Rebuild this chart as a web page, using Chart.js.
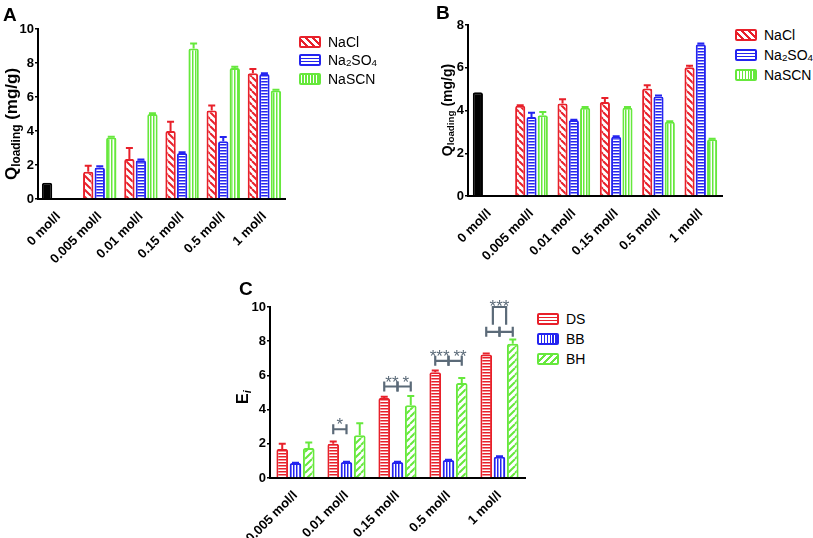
<!DOCTYPE html>
<html>
<head>
<meta charset="utf-8">
<script src="https://cdn.jsdelivr.net/npm/chart.js@4.4.1/dist/chart.umd.min.js"></script>
<style>
  body { margin: 0; background: #fff; }
  #wrap { position: relative; width: 813px; height: 538px; overflow: hidden; font-family: "Liberation Sans", Arial, sans-serif; }
  canvas { position: absolute; }
  .letter { position: absolute; font-weight: bold; font-size: 19px; }
  .ytitle { position: absolute; font-weight: bold; white-space: nowrap; line-height: 1; transform: translate(-50%, -50%) rotate(-90deg); }
  .ytitle sub { font-size: 70%; vertical-align: baseline; position: relative; top: 0.25em; }
  .legend { position: absolute; font-size: 14px; }
  .legend .row { position: absolute; left: 0; white-space: nowrap; transform: translateY(-50%); display: flex; align-items: center; }
  .legend .sw { box-sizing: border-box; width: 22px; height: 12px; border: 2px solid; border-radius: 2px; margin-right: 7px; }
  .legend sub { font-size: 70%; vertical-align: baseline; position: relative; top: 0.3em; }
</style>
</head>
<body>
<div id="wrap">
  <canvas id="chartA" width="300" height="270" style="left:0;top:0"></canvas>
  <canvas id="chartB" width="335" height="270" style="left:400px;top:0"></canvas>
  <canvas id="chartC" width="335" height="268" style="left:200px;top:270px"></canvas>

  <div class="letter" style="left:3px;top:4px">A</div>
  <div class="letter" style="left:436px;top:2px">B</div>
  <div class="letter" style="left:239px;top:278px">C</div>

  <div class="ytitle" style="left:11px;top:124px;font-size:17px">Q<sub>loading</sub> (mg/g)</div>
  <div class="ytitle" style="left:447px;top:110px;font-size:14px">Q<sub>loading</sub> (mg/g)</div>
  <div class="ytitle" style="left:243px;top:397px;font-size:16px">E<sub><i>i</i></sub></div>

  <div class="legend" style="left:299px;top:0">
    <div class="row" style="top:42px"><span class="sw" id="swA0"></span>NaCl</div>
    <div class="row" style="top:60px"><span class="sw" id="swA1"></span>Na<sub>2</sub>SO<sub>4</sub></div>
    <div class="row" style="top:79px"><span class="sw" id="swA2"></span>NaSCN</div>
  </div>
  <div class="legend" style="left:735px;top:0">
    <div class="row" style="top:35px"><span class="sw" id="swB0"></span>NaCl</div>
    <div class="row" style="top:55px"><span class="sw" id="swB1"></span>Na<sub>2</sub>SO<sub>4</sub></div>
    <div class="row" style="top:75px"><span class="sw" id="swB2"></span>NaSCN</div>
  </div>
  <div class="legend" style="left:537px;top:0">
    <div class="row" style="top:319px"><span class="sw" id="swC0"></span>DS</div>
    <div class="row" style="top:339px"><span class="sw" id="swC1"></span>BB</div>
    <div class="row" style="top:359px"><span class="sw" id="swC2"></span>BH</div>
  </div>
</div>

<script>
// ---- data ----
// first value of each NaCl array is the 0 mol/l control (drawn black)
const labelsAB = ["0 mol/l", "0.005 mol/l", "0.01 mol/l", "0.15 mol/l", "0.5 mol/l", "1 mol/l"];
const labelsC = ["0.005 mol/l", "0.01 mol/l", "0.15 mol/l", "0.5 mol/l", "1 mol/l"];

const naclA = [0.95, 1.6, 2.35, 4.0, 5.2, 7.4];
const naclErrA = [0, 0.35, 0.65, 0.55, 0.3, 0.25];
const na2so4A = [null, 1.85, 2.28, 2.7, 3.4, 7.35];
const na2so4ErrA = [0, 0.08, 0.04, 0.05, 0.25, 0.04];
const nascnA = [null, 3.62, 5.0, 8.85, 7.7, 6.38];
const nascnErrA = [0, 0.04, 0.04, 0.3, 0.08, 0.04];

const naclB = [4.85, 4.22, 4.33, 4.4, 5.03, 6.02];
const naclErrB = [0, 0.03, 0.2, 0.18, 0.15, 0.07];
const na2so4B = [null, 3.7, 3.55, 2.77, 4.65, 7.1];
const na2so4ErrB = [0, 0.2, 0.02, 0.02, 0.05, 0.03];
const nascnB = [null, 3.78, 4.13, 4.13, 3.47, 2.65];
const nascnErrB = [0, 0.15, 0.03, 0.03, 0.03, 0.03];

const dsC = [1.7, 2.0, 4.68, 6.18, 7.22];
const dsErrC = [0.3, 0.14, 0.07, 0.1, 0.06];
const bbC = [0.87, 0.93, 0.93, 1.05, 1.25];
const bbErrC = [0.02, 0.02, 0.02, 0.02, 0.02];
const bhC = [1.75, 2.5, 4.25, 5.55, 7.85];
const bhErrC = [0.33, 0.7, 0.55, 0.3, 0.25];

// significance brackets in C: [category, bar a, bar b, y, stars]
const sigC = [
  [1, 0, 1, 2.85, "*"],
  [2, 0, 1, 5.35, "**"],
  [2, 1, 2, 5.35, "*"],
  [3, 0, 1, 6.85, "***"],
  [3, 1, 2, 6.85, "**"],
  [4, 0, 1, 8.55, ""],
  [4, 1, 2, 8.55, ""]
];
// joining bracket over 1 mol/l: [category, y, stars]
const sigTopC = [4, 10, "***"];

const RED = "#e8202a";
const BLUE = "#2424f0";
const GREEN = "#66e83c";
const SIG = "#5b6a78";
const FONT = "'Liberation Sans', Arial, sans-serif";

// ---- fill patterns ----
function makePattern(color, kind) {
  const c = document.createElement("canvas");
  const s = kind === "diagDown" || kind === "diagUp" ? 7 : 3;
  c.width = s; c.height = s;
  const g = c.getContext("2d");
  g.fillStyle = "#fff";
  g.fillRect(0, 0, s, s);
  g.strokeStyle = color;
  g.fillStyle = color;
  if (kind === "horiz") {
    g.fillRect(0, 0, s, 1.5);
  } else if (kind === "vert") {
    g.fillRect(0, 0, 1.5, s);
  } else {
    g.lineWidth = 2;
    g.beginPath();
    for (const x0 of [-s, 0, s]) {
      if (kind === "diagDown") { g.moveTo(x0, 0); g.lineTo(x0 + s, s); }
      else { g.moveTo(x0, s); g.lineTo(x0 + s, 0); }
    }
    g.stroke();
  }
  return g.createPattern(c, "repeat");
}

function cssFill(color, kind) {
  if (kind === "horiz") return `repeating-linear-gradient(0deg, #fff 0 1.5px, ${color} 1.5px 3px)`;
  if (kind === "vert") return `repeating-linear-gradient(90deg, #fff 0 1.5px, ${color} 1.5px 3px)`;
  if (kind === "diagDown") return `repeating-linear-gradient(45deg, #fff 0 3px, ${color} 3px 5px)`;
  return `repeating-linear-gradient(-45deg, #fff 0 3px, ${color} 3px 5px)`;
}

function swatch(id, color, kind) {
  const el = document.getElementById(id);
  el.style.borderColor = color;
  el.style.background = cssFill(color, kind);
}

// ---- plugins ----
const errorBars = {
  id: "errorBars",
  afterDatasetsDraw(chart) {
    const ctx = chart.ctx;
    const yScale = chart.scales.y;
    chart.data.datasets.forEach((ds, i) => {
      if (!ds.errors) return;
      const meta = chart.getDatasetMeta(i);
      meta.data.forEach((bar, j) => {
        const v = ds.data[j];
        const e = ds.errors[j];
        if (v == null || !e) return;
        const top = yScale.getPixelForValue(v + e);
        ctx.save();
        ctx.strokeStyle = ds.errorColor;
        ctx.lineWidth = 2;
        ctx.beginPath();
        ctx.moveTo(bar.x, bar.y);
        ctx.lineTo(bar.x, top);
        ctx.moveTo(bar.x - 3.5, top);
        ctx.lineTo(bar.x + 3.5, top);
        ctx.stroke();
        ctx.restore();
      });
    });
  }
};

const sigMarks = {
  id: "sigMarks",
  afterDatasetsDraw(chart) {
    const ctx = chart.ctx;
    const yScale = chart.scales.y;
    const barX = (d, c) => chart.getDatasetMeta(d).data[c].x;
    ctx.save();
    ctx.strokeStyle = SIG;
    ctx.fillStyle = SIG;
    ctx.lineWidth = 2.2;
    ctx.font = "17px " + FONT;
    ctx.textBaseline = "alphabetic";
    sigC.forEach(([c, a, b, v, txt]) => {
      const x1 = barX(a, c), x2 = barX(b, c), y = yScale.getPixelForValue(v);
      ctx.beginPath();
      ctx.moveTo(x1, y); ctx.lineTo(x2, y);
      ctx.moveTo(x1, y - 5); ctx.lineTo(x1, y + 5);
      ctx.moveTo(x2, y - 5); ctx.lineTo(x2, y + 5);
      ctx.stroke();
      if (!txt) return;
      const paired = sigC.filter((s) => s[0] === c).length > 1;
      if (paired && a === 0) {
        ctx.textAlign = "right";
        ctx.fillText(txt, x2 + 1, y + 1);
      } else if (paired) {
        ctx.textAlign = "left";
        ctx.fillText(txt, x1 + 5, y + 1);
      } else {
        ctx.textAlign = "center";
        ctx.fillText(txt, (x1 + x2) / 2, y + 1);
      }
    });
    const [c, v, txt] = sigTopC;
    const low = sigC.find((s) => s[0] === c)[3];
    const xl = (barX(0, c) + barX(1, c)) / 2;
    const xr = (barX(1, c) + barX(2, c)) / 2;
    const yt = yScale.getPixelForValue(v);
    const yb = yScale.getPixelForValue(low) - 7;
    ctx.beginPath();
    ctx.moveTo(xl, yb); ctx.lineTo(xl, yt); ctx.lineTo(xr, yt); ctx.lineTo(xr, yb);
    ctx.stroke();
    ctx.textAlign = "center";
    ctx.fillText(txt, (xl + xr) / 2, yt + 5);
    ctx.restore();
  }
};

// ---- chart builder ----
function barSet(data, errors, color, kind, controlFirst) {
  const pat = makePattern(color, kind);
  return {
    data: data,
    errors: errors,
    errorColor: color,
    backgroundColor: (ctx) => (controlFirst && ctx.dataIndex === 0 ? "#000" : pat),
    borderColor: (ctx) => (controlFirst && ctx.dataIndex === 0 ? "#000" : color),
    borderWidth: 2,
    borderRadius: { topLeft: 2, topRight: 2 },
    borderSkipped: "bottom"
  };
}

function makeChart(id, labels, datasets, box, yMax, extraPlugins) {
  return new Chart(document.getElementById(id), {
    type: "bar",
    data: { labels: labels, datasets: datasets },
    options: {
      responsive: false,
      animation: false,
      datasets: { bar: { categoryPercentage: box.cat, barPercentage: box.bar } },
      layout: { padding: { top: box.top, right: box.right, left: 0, bottom: 0 } },
      plugins: { legend: { display: false }, tooltip: { enabled: false } },
      scales: {
        x: {
          afterFit: (s) => { s.height = box.xh; },
          grid: { display: false },
          border: { display: true, color: "#000", width: 2 },
          ticks: {
            autoSkip: false,
            minRotation: 45,
            maxRotation: 45,
            padding: 2,
            color: "#000",
            font: { family: FONT, size: 13, weight: "bold" }
          }
        },
        y: {
          min: 0,
          max: yMax,
          afterFit: (s) => { s.width = box.yw; },
          grid: { drawOnChartArea: false, color: "#000", lineWidth: 1.5, tickLength: 3 },
          border: { display: true, color: "#000", width: 2 },
          ticks: {
            stepSize: 2,
            padding: 1,
            color: "#000",
            font: { family: FONT, size: 13, weight: "bold" }
          }
        }
      }
    },
    plugins: [errorBars].concat(extraPlugins || [])
  });
}

makeChart("chartA", labelsAB, [
  barSet(naclA, naclErrA, RED, "diagDown", true),
  barSet(na2so4A, na2so4ErrA, BLUE, "horiz"),
  barSet(nascnA, nascnErrA, GREEN, "vert")
], { top: 29, right: 15, xh: 71, yw: 38, cat: 0.84, bar: 0.9 }, 10);

makeChart("chartB", labelsAB, [
  barSet(naclB, naclErrB, RED, "diagDown", true),
  barSet(na2so4B, na2so4ErrB, BLUE, "horiz"),
  barSet(nascnB, nascnErrB, GREEN, "vert")
], { top: 25, right: 13, xh: 74, yw: 68, cat: 0.8, bar: 0.9 }, 8);

makeChart("chartC", labelsC, [
  barSet(dsC, dsErrC, RED, "horiz"),
  barSet(bbC, bbErrC, BLUE, "vert"),
  barSet(bhC, bhErrC, GREEN, "diagUp")
], { top: 37, right: 10, xh: 60, yw: 70, cat: 0.78, bar: 0.88 }, 10, [sigMarks]);

swatch("swA0", RED, "diagDown"); swatch("swA1", BLUE, "horiz"); swatch("swA2", GREEN, "vert");
swatch("swB0", RED, "diagDown"); swatch("swB1", BLUE, "horiz"); swatch("swB2", GREEN, "vert");
swatch("swC0", RED, "horiz"); swatch("swC1", BLUE, "vert"); swatch("swC2", GREEN, "diagUp");
</script>
</body>
</html>
